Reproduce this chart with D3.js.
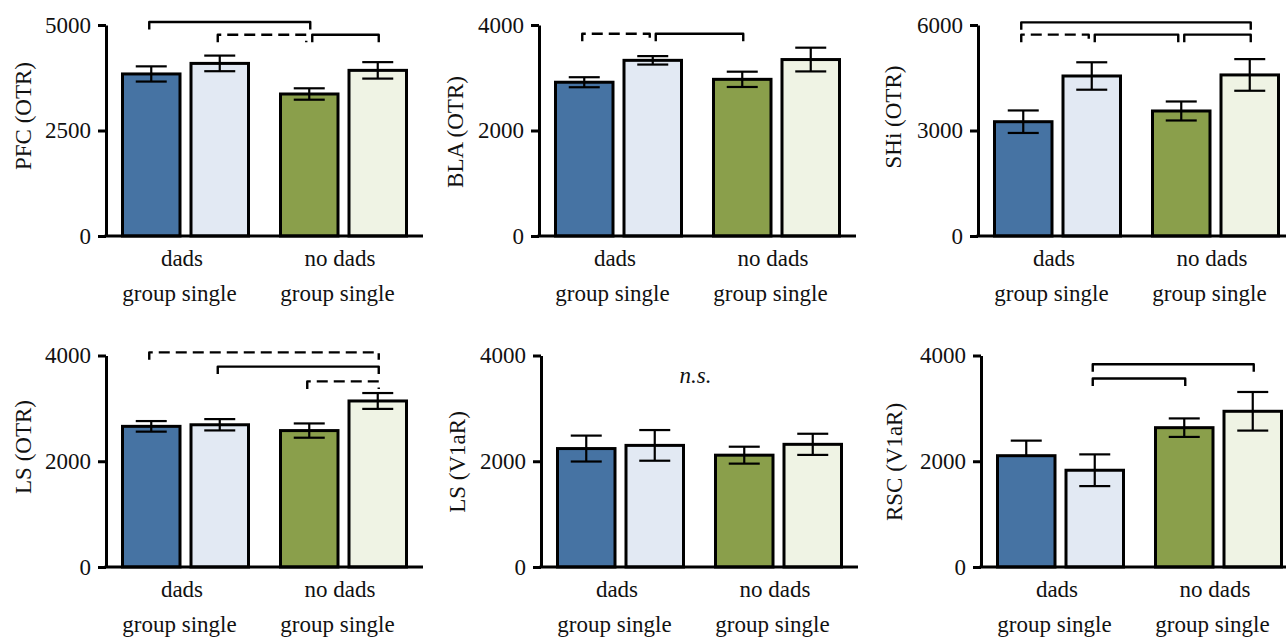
<!DOCTYPE html>
<html>
<head>
<meta charset="utf-8">
<script src="https://cdn.jsdelivr.net/npm/d3@7"></script>
<style>
  body { margin: 0; background: #fff; }
  svg text { font-family: "Liberation Serif", "Times New Roman", serif; fill: #111; }
</style>
</head>
<body>
<script>
// Data
const groups = ["dads", "no dads"];
const conditions = ["group", "single"];
const panelLabels = ["PFC (OTR)", "BLA (OTR)", "SHi (OTR)", "LS (OTR)", "LS (V1aR)", "RSC (V1aR)"];
const yMax = [5000, 4000, 6000, 4000, 4000, 4000];
const yTicks = [
  [0, 2500, 5000],
  [0, 2000, 4000],
  [0, 3000, 6000],
  [0, 2000, 4000],
  [0, 2000, 4000],
  [0, 2000, 4000]
];
// bar order: dads-group, dads-single, no dads-group, no dads-single
const means = [
  [3840, 4090, 3365, 3925],
  [2915, 3330, 2970, 3345],
  [3250, 4550, 3555, 4580],
  [2660, 2690, 2580, 3140],
  [2240, 2300, 2115, 2320],
  [2105, 1830, 2635, 2945]
];
const errors = [
  [180, 185, 135, 195],
  [95, 80, 145, 225],
  [320, 390, 270, 450],
  [100, 107, 135, 150],
  [245, 290, 160, 200],
  [285, 300, 175, 365]
];
// error bars drawn with the upper whisker only: [panel, bar]
const upperOnly = [[5, 0]];
// significance brackets (height in data units)
const brackets = [
  { panel: 0, from: 0, to: 2, at: 5070, dashed: false },
  { panel: 0, from: 1, to: 2, at: 4770, dashed: true },
  { panel: 0, from: 2, to: 3, at: 4770, dashed: false },
  { panel: 1, from: 0, to: 1, at: 3835, dashed: true },
  { panel: 1, from: 1, to: 2, at: 3835, dashed: false },
  { panel: 2, from: 0, to: 3, at: 6075, dashed: false },
  { panel: 2, from: 0, to: 1, at: 5725, dashed: true },
  { panel: 2, from: 1, to: 2, at: 5725, dashed: false },
  { panel: 2, from: 2, to: 3, at: 5725, dashed: false },
  { panel: 3, from: 0, to: 3, at: 4060, dashed: true },
  { panel: 3, from: 1, to: 3, at: 3790, dashed: false },
  { panel: 3, from: 2, to: 3, at: 3510, dashed: true },
  { panel: 5, from: 1, to: 3, at: 3835, dashed: false },
  { panel: 5, from: 1, to: 2, at: 3565, dashed: false }
];
const notes = [{ panel: 4, text: "n.s.", at: 3480 }];

// Layout
const fills = ["#4673a3", "#e2e9f3", "#8a9f4b", "#eff3e4"];
const axisX = [106, 539, 978, 106, 541, 981];
const rowY = [{ top: 25, zero: 236 }, { top: 355.5, zero: 567 }];
const labelPos = [
  { x: 23, y: 116 }, { x: 455, y: 132 }, { x: 893, y: 117 },
  { x: 23, y: 447 }, { x: 457, y: 462 }, { x: 894, y: 462 }
];
const fontSize = 23;
const serif = "'Liberation Serif', 'Times New Roman', serif";

const svg = d3.select("body").append("svg")
  .attr("width", 1286)
  .attr("height", 638)
  .attr("font-family", serif);

const outer = d3.scaleBand().domain(groups).range([15, 302]).paddingInner(29 / 158);
const inner = d3.scaleBand().domain(conditions).range([0, outer.bandwidth()]).paddingInner(8 / 68.5);

const barX = i => outer(groups[Math.floor(i / 2)]) + inner(conditions[i % 2]);
const barC = i => barX(i) + inner.bandwidth() / 2;

panelLabels.forEach((label, p) => {
  const row = rowY[Math.floor(p / 3)];
  const y = d3.scaleLinear().domain([0, yMax[p]]).range([row.zero, row.top]);
  const g = svg.append("g").attr("transform", `translate(${axisX[p]},0)`);

  // bars
  means[p].forEach((m, i) => {
    g.append("rect")
      .attr("x", barX(i) + 1.5)
      .attr("y", y(m))
      .attr("width", inner.bandwidth() - 3)
      .attr("height", y(0) - y(m))
      .attr("fill", fills[i])
      .attr("stroke", "#000")
      .attr("stroke-width", 3);
  });

  // error bars
  means[p].forEach((m, i) => {
    const cx = barC(i);
    const hideLow = upperOnly.some(d => d[0] === p && d[1] === i);
    const hi = y(m + errors[p][i]);
    const lo = hideLow ? y(m) : y(m - errors[p][i]);
    g.append("line").attr("x1", cx).attr("x2", cx).attr("y1", hi).attr("y2", lo)
      .attr("stroke", "#000").attr("stroke-width", 2.2);
    g.append("line").attr("x1", cx - 15.5).attr("x2", cx + 15.5).attr("y1", hi).attr("y2", hi)
      .attr("stroke", "#000").attr("stroke-width", 2.2);
    if (!hideLow) {
      g.append("line").attr("x1", cx - 15.5).attr("x2", cx + 15.5).attr("y1", lo).attr("y2", lo)
        .attr("stroke", "#000").attr("stroke-width", 2.2);
    }
  });

  // axes
  const yAxis = d3.axisLeft(y).tickValues(yTicks[p]).tickSize(8).tickSizeOuter(0)
    .tickPadding(7).tickFormat(d3.format("d"));
  const ya = g.append("g").call(yAxis).attr("font-family", serif).attr("font-size", fontSize);
  ya.select(".domain").attr("stroke-width", 3);
  ya.selectAll(".tick line").attr("stroke-width", 3);
  ya.selectAll(".tick text").attr("fill", "#111");

  g.append("line")
    .attr("x1", -1.5).attr("x2", 317)
    .attr("y1", y(0)).attr("y2", y(0))
    .attr("stroke", "#000").attr("stroke-width", 3);

  // category labels
  groups.forEach(gr => {
    const c = outer(gr) + outer.bandwidth() / 2;
    g.append("text").attr("x", c - 3.5).attr("y", y(0) + 30)
      .attr("text-anchor", "middle").attr("font-size", fontSize).text(gr);
    g.append("text").attr("x", c - 6).attr("y", y(0) + 65)
      .attr("text-anchor", "middle").attr("font-size", fontSize)
      .text(conditions.join(" "));
  });

  // y label
  svg.append("text")
    .attr("transform", `translate(${labelPos[p].x},${labelPos[p].y}) rotate(-90)`)
    .attr("text-anchor", "middle")
    .attr("dominant-baseline", "central")
    .attr("font-size", fontSize)
    .text(label);

  // brackets
  const bs = brackets.filter(b => b.panel === p);
  bs.forEach(b => {
    const shareLeft = bs.some(o => o !== b && o.at === b.at && o.to === b.from);
    const shareRight = bs.some(o => o !== b && o.at === b.at && o.from === b.to);
    const x1 = barC(b.from) + (shareLeft ? 3 : -2);
    const x2 = barC(b.to) - (shareRight ? 3 : -1);
    const yy = y(b.at);
    g.append("path")
      .attr("d", `M${x1},${yy + 7.5}V${yy}H${x2}V${yy + 7.5}`)
      .attr("fill", "none")
      .attr("stroke", "#000")
      .attr("stroke-width", 2.4)
      .attr("stroke-linejoin", "round")
      .attr("stroke-dasharray", b.dashed ? "11,6" : null);
  });

  // notes
  notes.filter(n => n.panel === p).forEach(n => {
    g.append("text")
      .attr("x", (barX(0) + barX(3) + inner.bandwidth()) / 2 - 4)
      .attr("y", y(n.at))
      .attr("text-anchor", "middle")
      .attr("font-size", fontSize)
      .attr("font-style", "italic")
      .text(n.text);
  });
});
</script>
</body>
</html>
